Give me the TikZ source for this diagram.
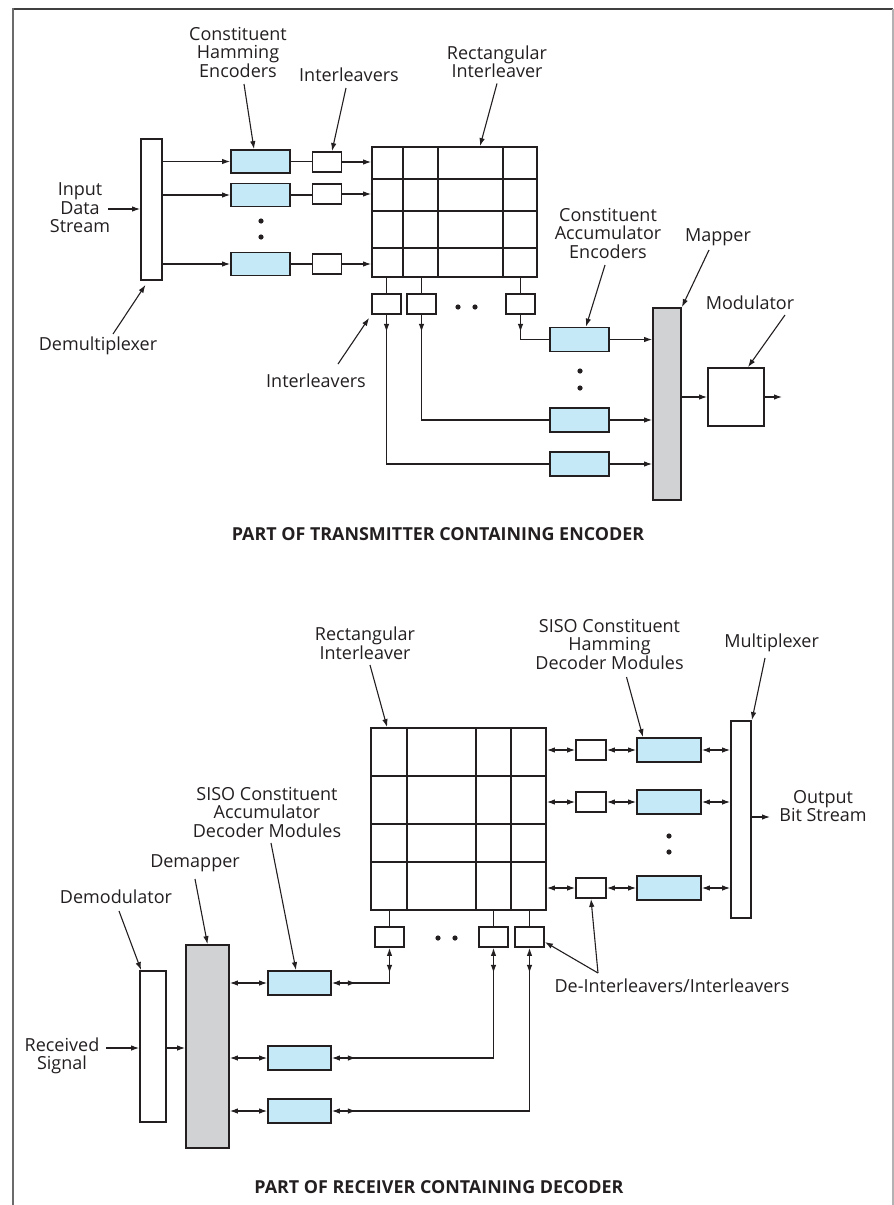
\documentclass[tikz,border=0pt]{standalone}
\usepackage{fontspec}
\setmainfont{Open Sans}
\usetikzlibrary{arrows.meta,decorations.markings,calc}
\definecolor{encblue}{HTML}{C6E9F8}
\definecolor{mapgray}{HTML}{D1D2D4}
\definecolor{ink}{HTML}{231F20}
\begin{document}
\begin{tikzpicture}[x=1pt,y=-1pt,
  >={Latex[length=8pt,width=5.5pt]},
  box/.style={draw=ink, line width=1.8pt, inner sep=0pt, fill=white},
  enc/.style={box, fill=encblue, minimum width=59, minimum height=23},
  sbox/.style={box, minimum width=29, minimum height=20},
  gline/.style={draw=ink, line width=1.1pt},
  conn/.style={draw=ink, line width=1.1pt},
  arr/.style={conn, ->},
  dbl/.style={conn, <->},
  midarr/.style={conn, postaction={decorate}, decoration={markings, mark=at position 17pt with {\arrow{>}}}},
  bidir/.style={conn, <->, postaction={decorate}, decoration={markings, mark=at position 24pt with {\arrow{>}}, mark=at position -25pt with {\arrowreversed{>}}}},
  lbl/.style={align=center, inner sep=1pt, text=ink, font=\fontsize{18}{18.5}\selectfont},
  ttl/.style={inner sep=1pt, text=ink, font=\fontsize{17.9}{20}\selectfont\bfseries},
  dot/.style={fill=ink}
]
\useasboundingbox (0,0) rectangle (894,1205);
% frame
\draw[line width=1.6pt, black!75] (12,9) -- (893,9);
\draw[line width=2pt, black!58] (13,8.2) -- (13,1205);
\draw[line width=1.2pt, black!30] (893,9) -- (893,1205);

% ================= TRANSMITTER =================
\node[box, minimum width=21, minimum height=141] (demux) at (151.5,209.5) {};
\node[enc] (h1) at (260.5,161.5) {};
\node[enc] (h2) at (260.5,195) {};
\node[enc] (h3) at (260.5,264) {};
\node[sbox] (i1) at (327,162) {};
\node[sbox] (i2) at (327,194) {};
\node[sbox] (i3) at (327,264) {};
\node[box, fill=none, minimum width=165, minimum height=130] (g1) at (454.5,212) {};
\foreach \x in {403,438,503} \draw[gline] (\x,147) -- (\x,277);
\foreach \y in {179,211,248} \draw[gline] (372,\y) -- (537,\y);
\node[sbox] (b1) at (386.5,304) {};
\node[sbox] (b2) at (421.5,304) {};
\node[sbox] (b3) at (520.5,304) {};
\node[enc, minimum height=24] (a1) at (579.5,339.5) {};
\node[enc, minimum height=24] (a2) at (579.5,420) {};
\node[enc, minimum height=24] (a3) at (579.5,464) {};
\node[box, fill=mapgray, minimum width=28, minimum height=192] (mapper) at (667,404) {};
\node[box, minimum width=56, minimum height=58] (mod) at (736,397) {};
\coordinate (modout) at (782,397);
\coordinate (inp) at (108,209);

\foreach \k in {1,2,3} {
  \draw[arr] (demux.east |- h\k) -- (h\k.west);
  \draw[conn] (h\k.east) -- (h\k.east -| i\k.west);
  \draw[arr] (i\k.east) -- (i\k.east -| g1.west);
  \draw[arr] (a\k.east) -- (a\k.east -| mapper.west);
}
\foreach \b in {b1,b2,b3} \draw[conn] (\b.north |- g1.south) -- (\b.north);
\draw[midarr] (b3.south) |- (a1.west);
\draw[midarr] (b2.south) |- (a2.west);
\draw[midarr] (b1.south) |- (a3.west);
\draw[arr] (mapper.east |- mod.west) -- (mod.west);
\draw[arr] (mod.east) -- (modout);
\draw[arr] (inp) -- (inp -| demux.west);

\fill[dot] (261,221) circle[radius=2.6pt];
\fill[dot] (261,237) circle[radius=2.6pt];
\fill[dot] (458,307) circle[radius=2.6pt];
\fill[dot] (475,307) circle[radius=2.6pt];
\fill[dot] (580,371) circle[radius=2.6pt];
\fill[dot] (580,388) circle[radius=2.6pt];

\node[lbl] (lIn) at (80,208) {Input\\Data\\Stream};
\node[lbl] (lHam) at (238,52) {Constituent\\Hamming\\Encoders};
\node[lbl] (lInt1) at (349,75) {Interleavers};
\node[lbl] (lRect1) at (497,61.5) {Rectangular\\Interleaver};
\node[lbl] (lAcc) at (608,233) {Constituent\\Accumulator\\Encoders};
\node[lbl] (lMap) at (718,237) {Mapper};
\node[lbl] (lMod) at (750,303) {Modulator};
\node[lbl] (lInt2) at (316,381) {Interleavers};
\node[lbl] (lDemux) at (98,346) {Demultiplexer};

\draw[arr] ($(lHam)+(6,32)$) -- ([xshift=-6.5pt]h1.north);
\draw[arr] ($(lInt1)+(-3,13)$) -- ([xshift=5pt]i1.north);
\draw[arr] ($(lRect1)+(0,22)$) -- ([xshift=25.5pt]g1.north);
\draw[arr] ($(lAcc)+(-3,32)$) -- ([xshift=6.5pt]a1.north);
\draw[arr] ($(lMap)+(-9,13)$) -- (mapper.north east);
\draw[arr] ($(lMod)+(35,12)$) -- ([xshift=12pt]mod.north);
\draw[arr] ($(lInt2)+(22,-17)$) -- ([xshift=-2pt,yshift=-3pt]b1.south west);
\draw[arr] ($(lDemux)+(15,-12)$) -- ([xshift=-6pt,yshift=-4pt]demux.south);

\node[ttl] (t1) at (438,534) {PART OF TRANSMITTER CONTAINING ENCODER};

% ================= RECEIVER =================
\node[box, minimum width=26, minimum height=151] (demod) at (153,1046.5) {};
\node[box, fill=mapgray, minimum width=43, minimum height=203] (demap) at (207.5,1046.5) {};
\node[enc, minimum width=63, minimum height=24] (d1) at (299.5,983) {};
\node[enc, minimum width=63, minimum height=24] (d2) at (299.5,1058) {};
\node[enc, minimum width=63, minimum height=24] (d3) at (299.5,1111) {};
\node[box, fill=none, minimum width=175, minimum height=182] (g2) at (458.5,819) {};
\foreach \x in {407,476,511} \draw[gline] (\x,728) -- (\x,910);
\foreach \y in {776,824,862} \draw[gline] (371,\y) -- (546,\y);
\node[sbox] (A) at (389.5,937) {};
\node[sbox] (B) at (493.5,937) {};
\node[sbox] (C) at (529.5,937) {};
\node[sbox, minimum width=30] (r1) at (591,750) {};
\node[sbox, minimum width=30] (r2) at (591,802) {};
\node[sbox, minimum width=30] (r3) at (591,888) {};
\node[enc, minimum width=64, minimum height=24] (e1) at (669,750) {};
\node[enc, minimum width=64, minimum height=24] (e2) at (669,802) {};
\node[enc, minimum width=64, minimum height=24] (e3) at (669,888) {};
\node[box, minimum width=20, minimum height=197] (mux) at (741,819.5) {};
\coordinate (outp) at (770,817);
\coordinate (rsig) at (106,1048);

\foreach \k in {1,2,3} {
  \draw[dbl] (demap.east |- d\k) -- (d\k.west);
  \draw[dbl] (r\k.west -| g2.east) -- (r\k.west);
  \draw[dbl] (r\k.east) -- (e\k.west);
  \draw[dbl] (e\k.east) -- (e\k.east -| mux.west);
}
\foreach \b in {A,B,C} \draw[conn] (\b.north |- g2.south) -- (\b.north);
\draw[bidir] (d1.east) -| (A.south);
\draw[bidir] (d2.east) -| (B.south);
\draw[bidir] (d3.east) -| (C.south);
\draw[arr] (outp -| mux.east) -- (outp);
\draw[arr] (rsig) -- (rsig -| demod.west);
\draw[arr] (rsig -| demod.east) -- (rsig -| demap.west);

\fill[dot] (438,938) circle[radius=2.6pt];
\fill[dot] (455,938) circle[radius=2.6pt];
\fill[dot] (669,836) circle[radius=2.6pt];
\fill[dot] (669,852) circle[radius=2.6pt];

\node[lbl] (lRect2) at (365,643) {Rectangular\\Interleaver};
\node[lbl] (lHamDec) at (609.5,644) {SISO Constituent\\Hamming\\Decoder Modules};
\node[lbl] (lMux) at (771.6,643) {Multiplexer};
\node[lbl] (lOut) at (823,806) {Output\\Bit Stream};
\node[lbl] (lDeint) at (672,986) {De-Interleavers/Interleavers};
\node[lbl] (lSisoAcc) at (267,812) {SISO Constituent\\Accumulator\\Decoder Modules};
\node[lbl] (lDemap) at (195,863) {Demapper};
\node[lbl] (lDemod) at (116,897) {Demodulator};
\node[lbl] (lRecv) at (62,1056) {Received\\Signal};

\draw[arr] ($(lRect2)+(5,22)$) -- ([xshift=17pt]g2.north west);
\draw[arr] ($(lHamDec)+(17,33)$) -- ([xshift=-26pt]e1.north);
\draw[arr] ($(lMux)+(-6.6,15)$) -- (mux.north east);
\draw[arr] ($(lDeint)+(-74,-13)$) -- (r3.south);
\draw[arr] ($(lDeint)+(-74,-13)$) -- ([yshift=-5pt]C.east);
\draw[arr] ($(lSisoAcc)+(4,31)$) -- ([xshift=-3.5pt]d1.north);
\draw[arr] ($(lDemap)+(0,16)$) -- (demap.north);
\draw[arr] ($(lDemod)+(3,14)$) -- ([xshift=2pt]demod.north west);

\node[ttl] (t2) at (439,1187) {PART OF RECEIVER CONTAINING DECODER};
\end{tikzpicture}
\end{document}
